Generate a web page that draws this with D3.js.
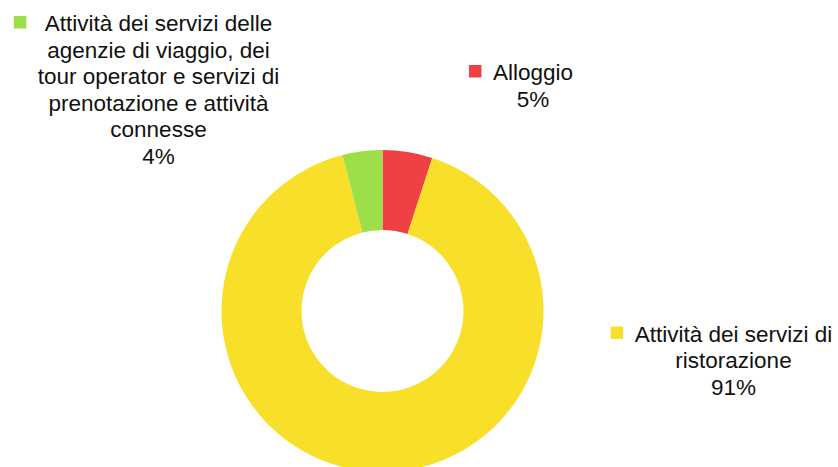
<!DOCTYPE html>
<html>
<head>
<meta charset="utf-8">
<script src="https://cdn.jsdelivr.net/npm/d3@7"></script>
<style>
  html, body { margin: 0; padding: 0; background: #fff; }
  svg { display: block; }
</style>
</head>
<body>
<svg id="chart" width="838" height="467"></svg>
<script>
// Settori del turismo: quota per categoria
const categories = [
  "Alloggio",
  "Attività dei servizi di ristorazione",
  "Attività dei servizi delle agenzie di viaggio, dei tour operator e servizi di prenotazione e attività connesse"
];
const values = [5, 91, 4];
const colors = ["#EF4144", "#F7DF2A", "#9CDF48"];
// righe di testo delle etichette (a capo come nel grafico)
const labelLines = [
  ["Alloggio"],
  ["Attività dei servizi di", "ristorazione"],
  ["Attività dei servizi delle", "agenzie di viaggio, dei", "tour operator e servizi di", "prenotazione e attività", "connesse"]
];

const width = 838, height = 467;
const cx = 382.5, cy = 311;
const outerR = 161, innerR = 81;

const svg = d3.select("#chart");
const data = categories.map((c, i) => ({ name: c, value: values[i], color: colors[i], lines: labelLines[i] }));

const pie = d3.pie().value(d => d.value).sort(null);
const arc = d3.arc().innerRadius(innerR).outerRadius(outerR);

const g = svg.append("g").attr("transform", `translate(${cx},${cy})`);
g.selectAll("path")
  .data(pie(data))
  .join("path")
  .attr("d", arc)
  .attr("fill", d => d.data.color);

// posizione delle etichette: centro orizzontale del blocco e prima linea di base
const labelPos = [
  { x: 533, y: 80 },
  { x: 733.5, y: 341.5 },
  { x: 158.5, y: 31 }
];
const lineH = 26.6;
const fontSize = 22.5;
const fmt = d3.format(".0%");
const total = d3.sum(values);

data.forEach((d, i) => {
  const p = labelPos[i];
  const lg = svg.append("g").attr("class", "label");
  const lines = d.lines.concat([fmt(d.value / total)]);
  const t = lg.selectAll("text")
    .data(lines)
    .join("text")
    .attr("x", p.x)
    .attr("y", (l, j) => p.y + j * lineH)
    .attr("text-anchor", "middle")
    .attr("font-family", "'Liberation Sans', Arial, Helvetica, sans-serif")
    .attr("font-size", fontSize)
    .attr("fill", "#111")
    .text(l => l);
  // quadratino colorato a sinistra della riga più larga
  let minX = Infinity;
  t.each(function() { minX = Math.min(minX, this.getBBox().x); });
  const sq = 12.5;
  lg.append("rect")
    .attr("x", minX - 11.5 - sq)
    .attr("y", p.y - 2.5 - sq)
    .attr("width", sq)
    .attr("height", sq)
    .attr("fill", d.color);
});
</script>
</body>
</html>
